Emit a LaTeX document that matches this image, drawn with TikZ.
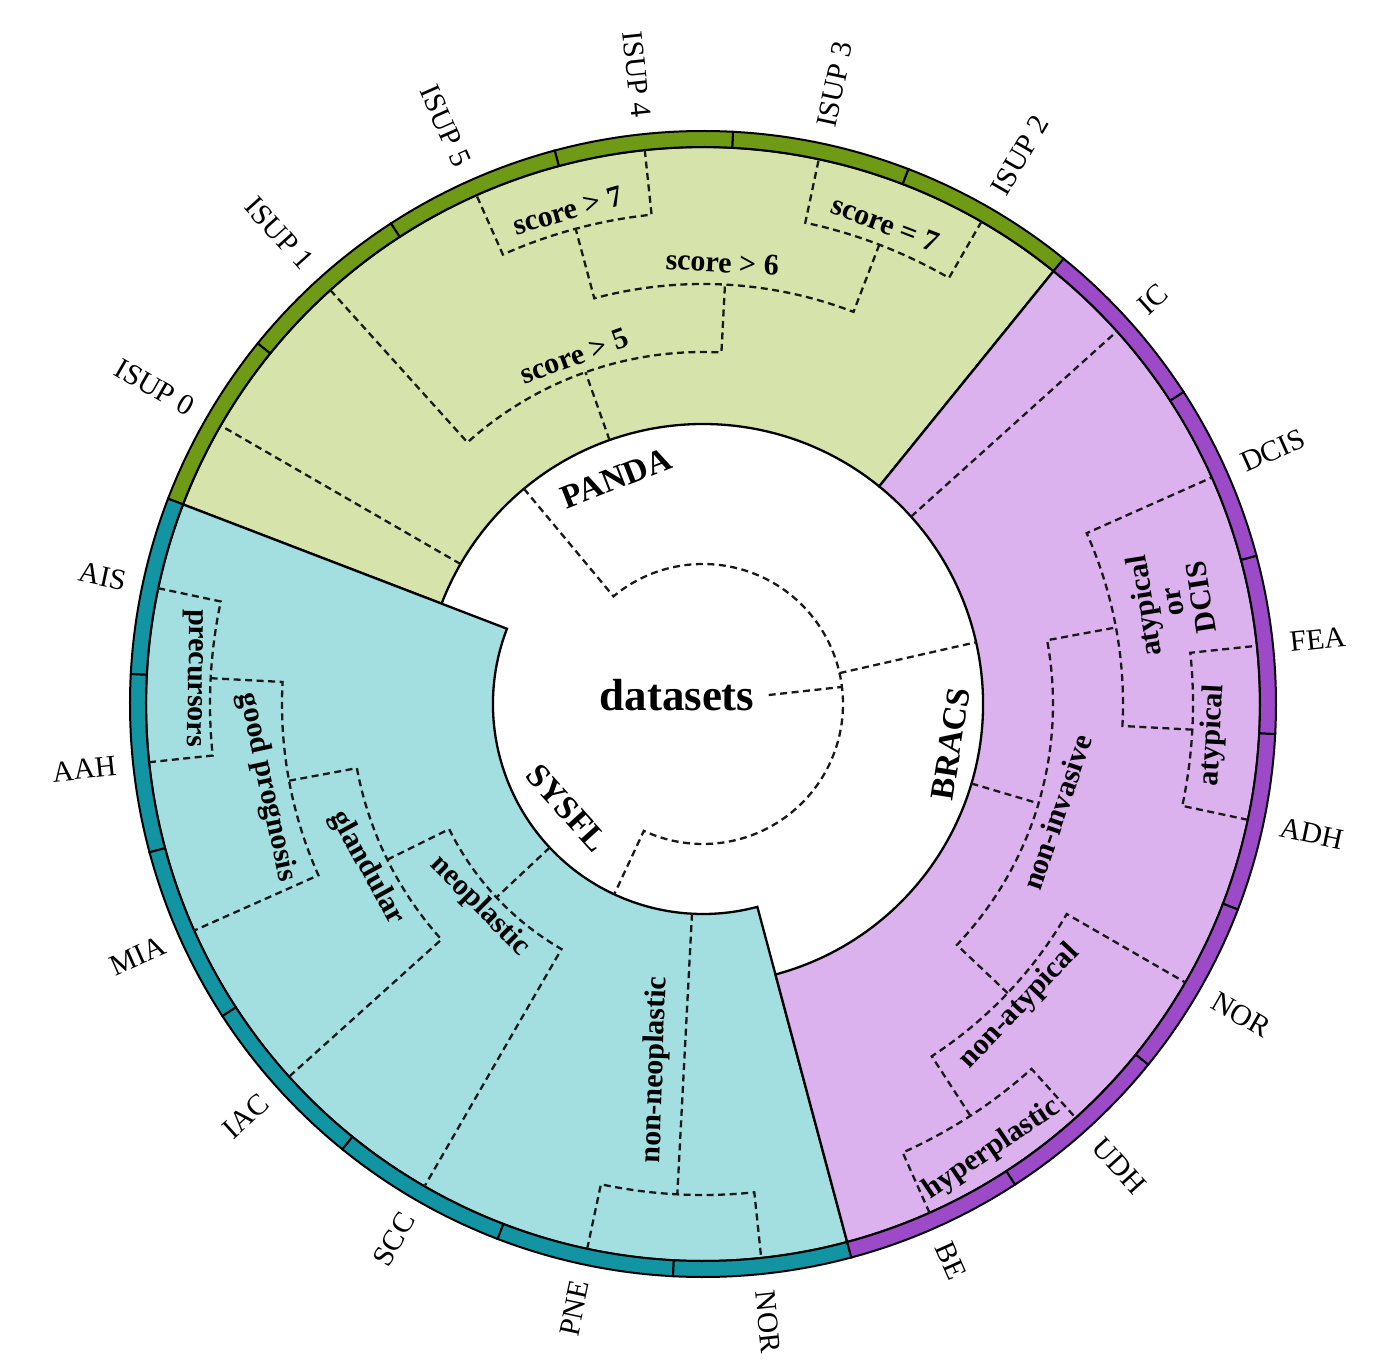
\documentclass[tikz,border=0pt]{standalone}
\usepackage{fontspec}
\setmainfont{Liberation Serif}
\definecolor{gfill}{HTML}{D6E4AB}
\definecolor{gring}{HTML}{6E9A16}
\definecolor{tfill}{HTML}{A3DEE1}
\definecolor{tring}{HTML}{1294A2}
\definecolor{pfill}{HTML}{DBB2EE}
\definecolor{pring}{HTML}{9D4AC8}
\begin{document}
\begin{tikzpicture}[
  dend/.style={draw=black!90, line width=2.3pt, dash pattern=on 7pt off 4.5pt},
  secline/.style={draw=black, line width=2.3pt},
  ringline/.style={draw=black, line width=2pt},
  leaf/.style={font=\fontsize{29.5}{29.5}\selectfont, inner sep=0pt},
  lab/.style={font=\bfseries\fontsize{30}{29}\selectfont, inner sep=0pt},
  dsl/.style={font=\bfseries\fontsize{33.5}{33.5}\selectfont, inner sep=0pt},
]
\useasboundingbox (-703pt,-664pt) rectangle (681pt,704pt);
% sectors
\filldraw[fill=gfill, secline] (51:280pt) arc[start angle=51, end angle=159, radius=280pt] -- (159:557pt) arc[start angle=159, end angle=51, radius=557pt] -- cycle;
\filldraw[fill=tfill, secline] (159:210pt) arc[start angle=159, end angle=285, radius=210pt] -- (285:557pt) arc[start angle=285, end angle=159, radius=557pt] -- cycle;
\filldraw[fill=pfill, secline] (285:280pt) arc[start angle=285, end angle=411, radius=280pt] -- (411:557pt) arc[start angle=411, end angle=285, radius=557pt] -- cycle;
% outer ring
\foreach \a [evaluate=\a as \b using \a+18] in {51,69,...,141}
  {\filldraw[fill=gring, ringline] (\a:557pt) arc[start angle=\a, end angle=\b, radius=557pt] -- (\b:573pt) arc[start angle=\b, end angle=\a, radius=573pt] -- cycle;}
\foreach \a [evaluate=\a as \b using \a+18] in {159,177,...,267}
  {\filldraw[fill=tring, ringline] (\a:557pt) arc[start angle=\a, end angle=\b, radius=557pt] -- (\b:573pt) arc[start angle=\b, end angle=\a, radius=573pt] -- cycle;}
\foreach \a [evaluate=\a as \b using \a+18] in {285,303,...,393}
  {\filldraw[fill=pring, ringline] (\a:557pt) arc[start angle=\a, end angle=\b, radius=557pt] -- (\b:573pt) arc[start angle=\b, end angle=\a, radius=573pt] -- cycle;}

% root
\node[font=\bfseries\fontsize{45}{45}\selectfont, inner sep=0pt] (ds) at (-26pt,9pt) {datasets};
\coordinate (root) at (7:140pt);
\draw[dend] ([xshift=14pt]ds.east) -- (root);
\draw[dend] (129.75:280pt) -- (129.75:140pt) arc[start angle=129.75, end angle=-115, radius=140pt] -- (245:210pt);
\draw[dend] (12.75:140pt) -- (12.75:280pt);
% PANDA subtree
\draw[dend] (150:280pt) -- (150:557pt);
\draw[dend] (109.5:280pt) -- (109.5:352pt);
\draw[dend] (132:557pt) -- (132:352pt) arc[start angle=132, end angle=87, radius=352pt] -- (87:420pt);
\draw[dend] (69:492pt) -- (69:420pt) arc[start angle=69, end angle=105, radius=420pt] -- (105:492pt);
\draw[dend] (60:557pt) -- (60:492pt) arc[start angle=60, end angle=78, radius=492pt] -- (78:557pt);
\draw[dend] (96:557pt) -- (96:492pt) arc[start angle=96, end angle=114, radius=492pt] -- (114:557pt);
% SYSFL subtree
\draw[dend] (223.125:210pt) -- (223.125:283pt);
\draw[dend] (206.25:352pt) -- (206.25:283pt) arc[start angle=206.25, end angle=240, radius=283pt] -- (240:557pt);
\draw[dend] (190.5:421pt) -- (190.5:352pt) arc[start angle=190.5, end angle=222, radius=352pt] -- (222:557pt);
\draw[dend] (177:493pt) -- (177:421pt) arc[start angle=177, end angle=204, radius=421pt] -- (204:557pt);
\draw[dend] (168:557pt) -- (168:493pt) arc[start angle=168, end angle=186, radius=493pt] -- (186:557pt);
\draw[dend] (267:210pt) -- (267:491pt);
\draw[dend] (258:557pt) -- (258:491pt) arc[start angle=258, end angle=276, radius=491pt] -- (276:557pt);
% BRACS subtree
\draw[dend] (42:280pt) -- (42:557pt);
\draw[dend] (343.5:280pt) -- (343.5:350pt);
\draw[dend] (316.5:420pt) -- (316.5:350pt) arc[start angle=316.5, end angle=370.5, radius=350pt] -- (370.5:420pt);
\draw[dend] (-3:490pt) -- (-3:420pt) arc[start angle=-3, end angle=24, radius=420pt] -- (24:557pt);
\draw[dend] (-12:557pt) -- (-12:490pt) arc[start angle=-12, end angle=6, radius=490pt] -- (6:557pt);
\draw[dend] (303:491pt) -- (303:420pt) arc[start angle=303, end angle=330, radius=420pt] -- (330:557pt);
\draw[dend] (294:557pt) -- (294:491pt) arc[start angle=294, end angle=312, radius=491pt] -- (312:557pt);

% dataset labels
\node[dsl, rotate=21.5] (panda) at (111:242pt) {PANDA};
\node[dsl, rotate=-48] (sysfl) at (217.4:171pt) {SYSFL};
\node[dsl, rotate=81] (bracs) at (-9.2:251pt) {BRACS};
% internal labels
\node[lab, rotate=16] (s7a) at (105.3:512pt) {score > 7};
\node[lab, rotate=-21] (s7b) at (69.2:514pt) {score = 7};
\node[lab, rotate=-3] (s6) at (87.5:442pt) {score > 6};
\node[lab, rotate=20] (s5) at (110.3:371pt) {score > 5};
\node[lab, rotate=-91] (prec) at (177.1:511pt) {precursors};
\node[lab, rotate=-78] (goodp) at (190.8:444pt) {good prognosis};
\node[lab, rotate=-61] (gland) at (206:374pt) {glandular};
\node[lab, rotate=-45] (neo) at (222.2:301pt) {neoplastic};
\node[lab, rotate=88] (nonneo) at (262.6:369pt) {non-neoplastic};
\node[lab, rotate=71] (noninv) at (343:370pt) {non-invasive};
\node[lab, rotate=99, align=center, font=\bfseries\fontsize{30}{29}\selectfont] (aod) at (12.3:480pt) {atypical\\or\\DCIS};
\node[lab, rotate=87] (atyp) at (-3.5:511pt) {atypical};
\node[lab, rotate=46.5] (nonat) at (316.3:438pt) {non-atypical};
\node[lab, rotate=34] (hyper) at (303:531pt) {hyperplastic};

% leaf labels
\foreach \t/\a [count=\i] in {ISUP 2/60, ISUP 3/78, NOR/276, BE/294, UDH/312, NOR/330, ADH/348, FEA/6, DCIS/24, IC/42}
  {\node[leaf, rotate=\a, anchor=west] (lo\i) at (\a:590pt) {\t};}
\foreach \t/\a [count=\i, evaluate=\a as \r using \a-180] in {ISUP 4/96, ISUP 5/114, ISUP 1/132, ISUP 0/150, AIS/168, AAH/186, MIA/204, IAC/222, SCC/240, PNE/258}
  {\node[leaf, rotate=\r, anchor=east] (li\i) at (\a:590pt) {\t};}
\end{tikzpicture}
\end{document}
